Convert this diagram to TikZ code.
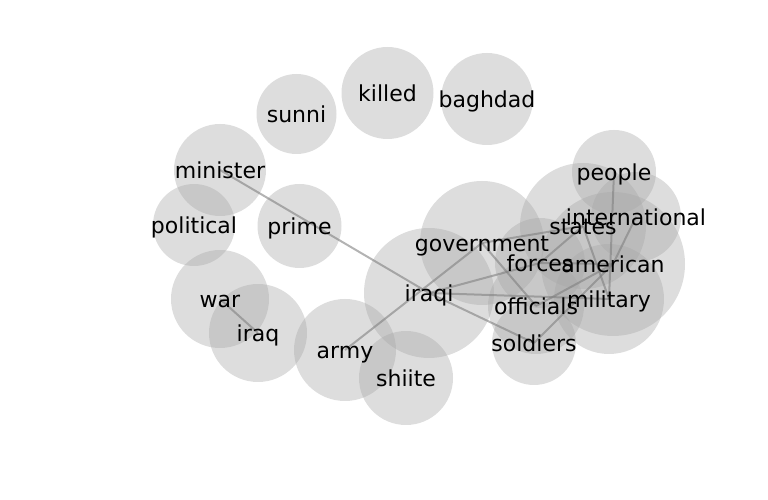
\documentclass[tikz,border=0pt]{standalone}
\usepackage{fontspec}
\setmainfont{DejaVu Sans}
\begin{document}
\begin{tikzpicture}[x=1pt,y=1pt,
  bubble/.style={circle, inner sep=0pt, fill=black!35, fill opacity=0.38, minimum size=#1},
  word/.style={inner sep=0pt, anchor=base, yshift=-8.3pt, font=\fontsize{22}{26}\selectfont, text=black},
  link/.style={draw=black!50, draw opacity=0.6, line width=2pt}]
\useasboundingbox (0,0) rectangle (768,500);
% bubbles
\node[bubble=92]  (c-killed)        at (387.5,407) {};
\node[bubble=92]  (c-baghdad)       at (487,401) {};
\node[bubble=80]  (c-sunni)         at (296.5,386) {};
\node[bubble=92]  (c-minister)      at (220,330) {};
\node[bubble=82]  (c-political)     at (194,275) {};
\node[bubble=84]  (c-prime)         at (299.5,274) {};
\node[bubble=98]  (c-war)           at (220,201) {};
\node[bubble=98]  (c-iraq)          at (258,167) {};
\node[bubble=102] (c-army)          at (345,150) {};
\node[bubble=94]  (c-shiite)        at (406,122) {};
\node[bubble=130] (c-iraqi)         at (429,207) {};
\node[bubble=124] (c-government)    at (482,257) {};
\node[bubble=126] (c-states)        at (583,274) {};
\node[bubble=84]  (c-people)        at (614,328) {};
\node[bubble=90]  (c-international) at (636,283) {};
\node[bubble=90]  (c-forces)        at (540,237) {};
\node[bubble=144] (c-american)      at (613,236) {};
\node[bubble=110] (c-military)      at (609,201) {};
\node[bubble=96]  (c-officials)     at (536,194) {};
\node[bubble=84]  (c-soldiers)      at (534,157) {};
% links
\draw[link] (c-minister.center) -- (c-iraqi.center);
\draw[link] (c-war.center) -- (c-iraq.center);
\draw[link] (c-army.center) -- (c-government.center);
\draw[link] (c-iraqi.center) -- (c-forces.center);
\draw[link] (c-iraqi.center) -- (c-military.center);
\draw[link] (c-iraqi.center) -- (c-soldiers.center);
\draw[link] (c-government.center) -- (c-states.center);
\draw[link] (c-government.center) -- (c-officials.center);
\draw[link] (c-forces.center) -- (c-states.center);
\draw[link] (c-forces.center) -- (c-american.center);
\draw[link] (c-states.center) -- (c-military.center);
\draw[link] (c-people.center) -- (c-military.center);
\draw[link] (c-international.center) -- (c-american.center);
\draw[link] (c-officials.center) -- (c-american.center);
\draw[link] (c-soldiers.center) -- (c-american.center);
% words
\node[word] (t-killed)        at (c-killed)        {killed};
\node[word] (t-baghdad)       at (c-baghdad)       {baghdad};
\node[word] (t-sunni)         at (c-sunni)         {sunni};
\node[word] (t-minister)      at (c-minister)      {minister};
\node[word] (t-political)     at (c-political)     {political};
\node[word] (t-prime)         at (c-prime)         {prime};
\node[word] (t-war)           at (c-war)           {war};
\node[word] (t-iraq)          at (c-iraq)          {iraq};
\node[word] (t-army)          at (c-army)          {army};
\node[word] (t-shiite)        at (c-shiite)        {shiite};
\node[word] (t-iraqi)         at (c-iraqi)         {iraqi};
\node[word] (t-government)    at (c-government)    {government};
\node[word] (t-states)        at (c-states)        {states};
\node[word] (t-people)        at (c-people)        {people};
\node[word] (t-international) at (c-international) {international};
\node[word] (t-forces)        at (c-forces)        {forces};
\node[word] (t-american)      at (c-american)      {american};
\node[word] (t-military)      at (c-military)      {military};
\node[word] (t-officials)     at (c-officials)     {officials};
\node[word] (t-soldiers)      at (c-soldiers)      {soldiers};
\end{tikzpicture}
\end{document}
